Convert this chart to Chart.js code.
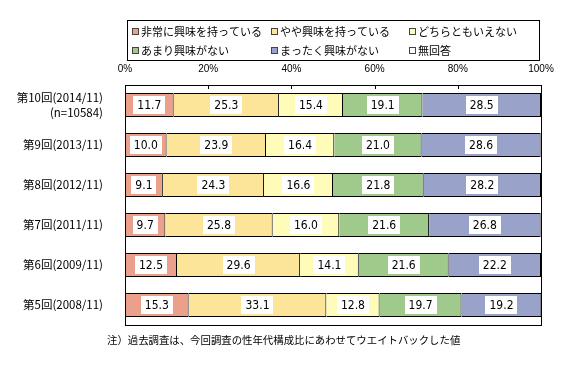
<!DOCTYPE html>
<html>
<head>
<meta charset="utf-8">
<script src="https://cdn.jsdelivr.net/npm/chart.js@4/dist/chart.umd.min.js"></script>
<style>
  body { margin: 0; background: #fff; }
  #wrap { width: 575px; height: 373px; position: relative; }
</style>
</head>
<body>
<div id="wrap"><canvas id="my-chart" width="575" height="373"></canvas></div>
<script>
'use strict';
// data
let rounds = [
  ['第10回(2014/11)', '(n=10584)'],
  '第9回(2013/11)',
  '第8回(2012/11)',
  '第7回(2011/11)',
  '第6回(2009/11)',
  '第5回(2008/11)'
]
let seriesNames = ['非常に興味を持っている', 'やや興味を持っている', 'どちらともいえない', 'あまり興味がない', 'まったく興味がない', '無回答']
let veryInterested = [11.7, 10.0, 9.1, 9.7, 12.5, 15.3]
let someInterested = [25.3, 23.9, 24.3, 25.8, 29.6, 33.1]
let neither = [15.4, 16.4, 16.6, 16.0, 14.1, 12.8]
let notMuch = [19.1, 21.0, 21.8, 21.6, 21.6, 19.7]
let notAtAll = [28.5, 28.6, 28.2, 26.8, 22.2, 19.2]
let noAnswer = [0, 0.1, 0, 0.1, 0, 0]
let xTicks = [0, 20, 40, 60, 80, 100]
let note = '注）過去調査は、今回調査の性年代構成比にあわせてウエイトバックした値'

let colors = ['#EBA08B', '#FCE598', '#FFFCBA', '#A0C98C', '#99A2C8', '#FFFFFF']
let allValues = [veryInterested, someInterested, neither, notMuch, notAtAll, noAnswer]
const jpFont = '"Noto Sans CJK JP", sans-serif'

let datasets = []
for (let i = 0; i < seriesNames.length; i++) {
  datasets.push({
    label: seriesNames[i],
    data: allValues[i],
    backgroundColor: colors[i],
    borderColor: '#000',
    borderWidth: 1,
    borderSkipped: 'start',
    barPercentage: 0.6,
    categoryPercentage: 1
  })
}

// white boxes with the value in each segment
const valueLabels = {
  id: 'valueLabels',
  afterDatasetsDraw(chart) {
    const ctx = chart.ctx
    ctx.save()
    ctx.font = '12px "Liberation Sans Narrow", "DejaVu Sans Condensed", sans-serif'
    ctx.textAlign = 'center'
    ctx.textBaseline = 'middle'
    for (let d = 0; d < 5; d++) {
      let meta = chart.getDatasetMeta(d)
      meta.data.forEach((bar, i) => {
        let txt = allValues[d][i].toFixed(1)
        let cx = (bar.x + bar.base) / 2
        let w = ctx.measureText(txt).width + 8
        ctx.fillStyle = '#fff'
        ctx.fillRect(Math.round(cx - w / 2), Math.round(bar.y - 9), Math.round(w), 18)
        ctx.fillStyle = '#000'
        ctx.fillText(txt, cx, bar.y + 1)
      })
    }
    ctx.restore()
  }
}

// frame, inner ticks, legend box and the note
const decorations = {
  id: 'decorations',
  afterDraw(chart) {
    const ctx = chart.ctx
    const a = chart.chartArea
    const xs = chart.scales.x
    ctx.save()
    ctx.strokeStyle = '#000'
    ctx.lineWidth = 1
    ctx.strokeRect(Math.round(a.left) + 0.5, Math.round(a.top) + 0.5, Math.round(a.right - a.left), Math.round(a.bottom - a.top))
    xTicks.forEach(t => {
      let px = Math.round(xs.getPixelForValue(t)) + 0.5
      ctx.beginPath()
      ctx.moveTo(px, a.top)
      ctx.lineTo(px, a.top + 4)
      ctx.stroke()
    })

    // legend
    ctx.strokeRect(127.5, 20.5, 412, 40)
    let colX = [132, 271, 409]
    let rowY = [32, 51]
    ctx.font = '11px ' + jpFont
    ctx.textBaseline = 'middle'
    ctx.textAlign = 'left'
    for (let i = 0; i < seriesNames.length; i++) {
      let x = colX[i % 3]
      let y = rowY[Math.floor(i / 3)]
      ctx.fillStyle = colors[i]
      ctx.fillRect(x, y - 4, 7, 7)
      ctx.strokeStyle = '#444'
      ctx.strokeRect(x + 0.5, y - 3.5, 6, 6)
      ctx.fillStyle = '#000'
      ctx.fillText(seriesNames[i], x + 9, y)
    }

    ctx.font = '10.4px ' + jpFont
    ctx.fillText(note, 107, 340)
    ctx.restore()
  }
}

const ctx = document.getElementById('my-chart').getContext('2d')
const myChart = new Chart(ctx, {
  type: 'bar',
  data: { labels: rounds, datasets: datasets },
  options: {
    indexAxis: 'y',
    responsive: false,
    animation: false,
    events: [],
    layout: { padding: { top: 62, left: 0, right: 34, bottom: 48 } },
    plugins: { legend: { display: false }, tooltip: { enabled: false } },
    scales: {
      x: {
        position: 'top',
        stacked: true,
        min: 0,
        max: 100,
        afterBuildTicks(scale) { scale.ticks = xTicks.map(v => ({ value: v })) },
        afterFit(scale) { scale.height = 23 },
        grid: { display: false, drawTicks: false },
        border: { display: false },
        ticks: {
          padding: 10,
          color: '#000',
          maxRotation: 0,
          font: { size: 10, family: '"Liberation Sans", sans-serif' },
          callback: v => v + '%'
        }
      },
      y: {
        stacked: true,
        afterFit(scale) { scale.width = 125 },
        grid: { display: false, drawTicks: false },
        border: { display: false },
        ticks: {
          padding: 22,
          color: '#000',
          font: { size: 11.5, family: jpFont, lineHeight: 1.3 }
        }
      }
    }
  },
  plugins: [valueLabels, decorations]
})
</script>
</body>
</html>
